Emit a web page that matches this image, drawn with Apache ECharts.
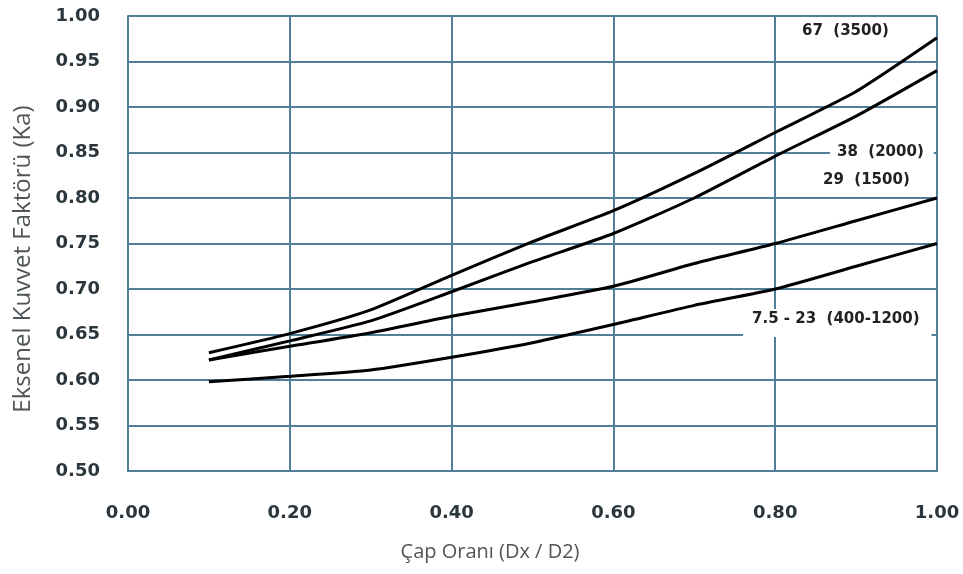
<!DOCTYPE html>
<html>
<head>
<meta charset="utf-8">
<script src="https://cdn.jsdelivr.net/npm/echarts@6/dist/echarts.min.js"></script>
<style>
  html, body { margin: 0; padding: 0; background: #fff; }
  #chart { width: 963px; height: 574px; }
</style>
</head>
<body>
<div id="chart"></div>
<script>
// Çap oranı (Dx / D2)
const ratios = [0.1, 0.2, 0.3, 0.4, 0.5, 0.6, 0.7, 0.8, 0.9, 1.0];
// Ka values
const ka67 = [0.630, 0.651, 0.677, 0.715, 0.752, 0.786, 0.827, 0.872, 0.917, 0.976];
const ka38 = [0.622, 0.643, 0.665, 0.697, 0.730, 0.761, 0.800, 0.846, 0.890, 0.940];
const ka29 = [0.622, 0.637, 0.652, 0.670, 0.686, 0.703, 0.728, 0.750, 0.775, 0.800];
const ka7 = [0.598, 0.604, 0.611, 0.625, 0.641, 0.661, 0.682, 0.700, 0.725, 0.750];
const curveNames = ['67  (3500)', '38  (2000)', '29  (1500)', '7.5 - 23  (400-1200)'];

const gridColor = '#4f7f99';
const tickFont = 'DejaVu Sans';
const noteFont = 'bold 15px "DejaVu Sans"';

function pairs(ys) {
  return ratios.map((x, i) => [x, ys[i]]);
}

let chartDom = document.getElementById('chart');
let myChart = echarts.init(chartDom);

function lineSeries(name, ys) {
  return {
    name: name,
    type: 'line',
    data: pairs(ys),
    showSymbol: false,
    smooth: 0.2,
    lineStyle: { color: '#000', width: 3 },
    z: 5
  };
}

let option = {
  animation: false,
  backgroundColor: '#fff',
  grid: { left: 128, right: 26, top: 16, bottom: 103 },
  xAxis: {
    type: 'value',
    min: 0,
    max: 1,
    interval: 0.2,
    axisLine: { show: true, lineStyle: { color: gridColor, width: 2 } },
    axisTick: { show: false },
    splitLine: { show: true, lineStyle: { color: gridColor, width: 2 } },
    axisLabel: {
      margin: 33,
      fontFamily: tickFont,
      fontWeight: 'bold',
      fontSize: 18,
      color: '#2a363c',
      formatter: v => v.toFixed(2)
    }
  },
  yAxis: {
    type: 'value',
    min: 0.5,
    max: 1.0,
    interval: 0.05,
    axisLine: { show: true, lineStyle: { color: gridColor, width: 2 } },
    axisTick: { show: false },
    splitLine: { show: true, lineStyle: { color: gridColor, width: 2 } },
    axisLabel: {
      margin: 28,
      fontFamily: tickFont,
      fontWeight: 'bold',
      fontSize: 18,
      color: '#2a363c',
      formatter: v => v.toFixed(2)
    }
  },
  graphic: [
    {
      type: 'text', x: 23, y: 259, rotation: Math.PI / 2, z: 10,
      style: {
        x: 0, y: 0,
        text: 'Eksenel Kuvvet Faktörü (Ka)',
        font: '24px "Open Sans"', fill: '#4f5558',
        align: 'center', verticalAlign: 'middle'
      }
    },
    {
      type: 'text', x: 490, y: 552, z: 10,
      style: {
        x: 0, y: 0,
        text: 'Çap Oranı (Dx / D2)', font: '20px "Open Sans"', fill: '#4f5558',
        align: 'center', verticalAlign: 'middle'
      }
    },
    {
      type: 'text', left: 802, top: 24, z: 10,
      style: { text: curveNames[0], font: noteFont, fill: '#222' }
    },
    {
      type: 'text', left: 830, top: 142, z: 10,
      style: {
        text: curveNames[1], font: noteFont, fill: '#222',
        backgroundColor: '#fff', padding: [3, 10, 3, 7]
      }
    },
    {
      type: 'text', left: 823, top: 173, z: 10,
      style: { text: curveNames[2], font: noteFont, fill: '#222' }
    },
    {
      type: 'text', left: 743, top: 309, z: 10,
      style: {
        text: curveNames[3], font: noteFont, fill: '#222',
        backgroundColor: '#fff', padding: [3, 12, 10, 9]
      }
    }
  ],
  series: [
    lineSeries(curveNames[0], ka67),
    lineSeries(curveNames[1], ka38),
    lineSeries(curveNames[2], ka29),
    lineSeries(curveNames[3], ka7)
  ]
};
option && myChart.setOption(option);
</script>
</body>
</html>
